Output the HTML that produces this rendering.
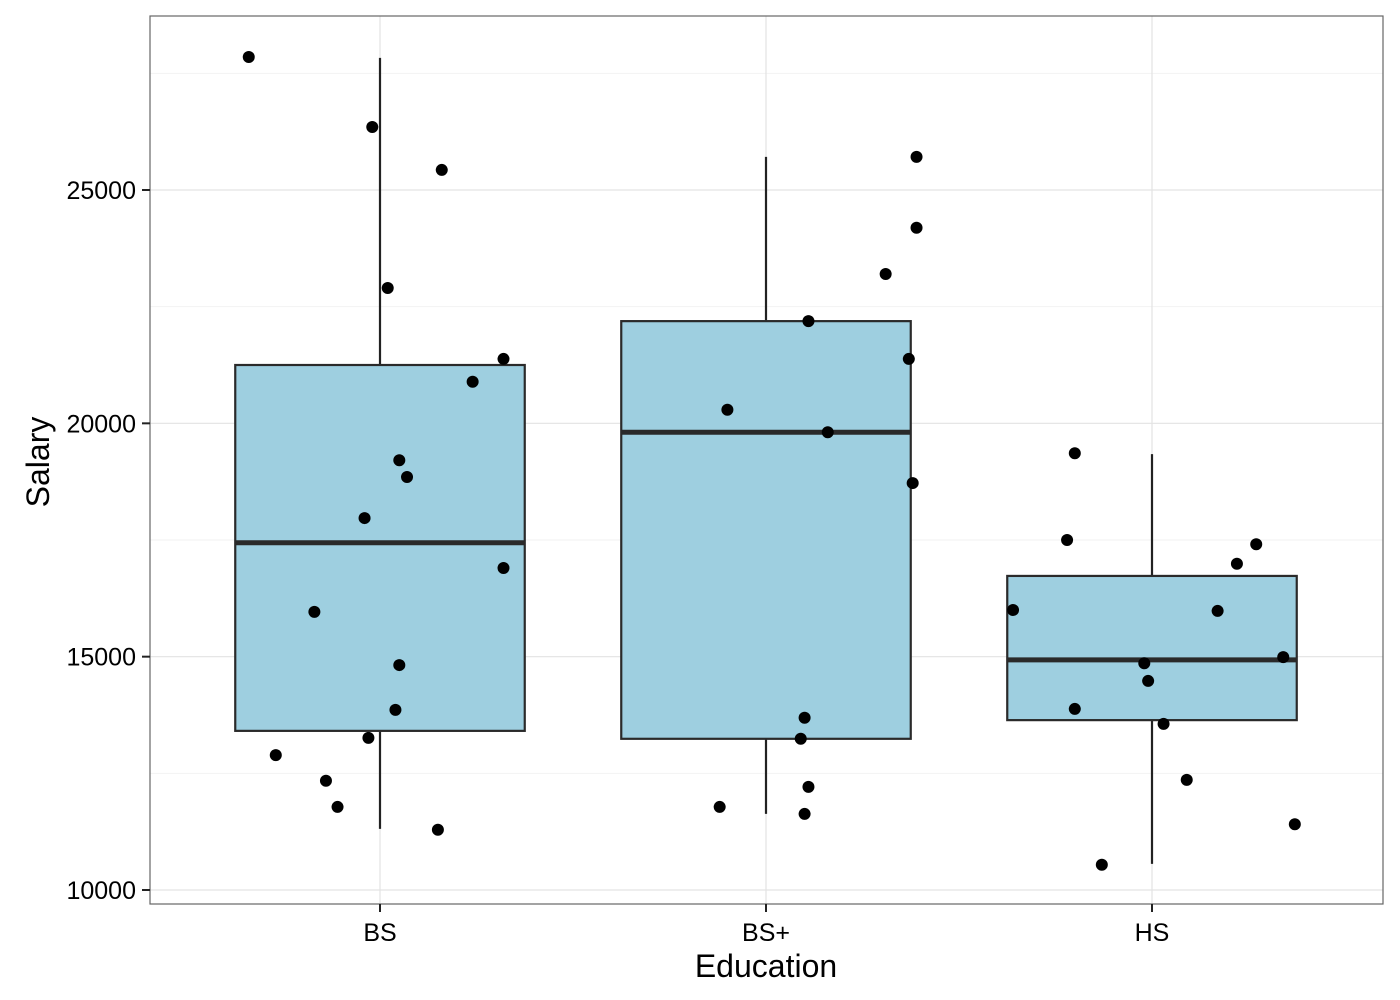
<!DOCTYPE html>
<html><head><meta charset="utf-8"><style>
html,body{margin:0;padding:0;background:#fff}
svg{display:block;font-family:"Liberation Sans",Arial,sans-serif}
</style></head><body>
<svg id="chart" width="1400" height="1000" viewBox="0 0 1400 1000" xmlns="http://www.w3.org/2000/svg"></svg>
<script>
const categories = ["BS", "BS+", "HS"];
const yTicks = [10000, 15000, 20000, 25000];
const yMinorTicks = [12500, 17500, 22500, 27500];
const boxQ1 = [13410, 13240, 13640];
const boxMedian = [17440, 19810, 14930];
const boxQ3 = [21250, 22190, 16730];
const whiskerLow = [11310, 11630, 10560];
const whiskerHigh = [27830, 25710, 19340];
const pointCategory = [0,0,0,0,0,0,0,0,0,0,0,0,0,0,0,0,0,0, 1,1,1,1,1,1,1,1,1,1,1,1,1, 2,2,2,2,2,2,2,2,2,2,2,2,2,2];
const pointJitter = [-0.34,-0.02,0.16,0.02,0.32,0.24,0.05,0.07,-0.04,0.32,-0.17,0.05,0.04,-0.03,-0.27,-0.14,-0.11,0.15,
  0.39,0.39,0.31,0.11,0.37,-0.10,0.16,0.38,0.10,0.09,0.11,-0.12,0.10,
  -0.20,-0.22,0.27,0.22,-0.36,0.17,0.34,-0.02,-0.01,-0.20,0.03,0.09,0.37,-0.13];
const pointSalary = [27850,26350,25430,22900,21380,20890,19210,18850,17970,16900,15960,14820,13860,13260,12890,12340,11780,11290,
  25710,24190,23200,22190,21380,20290,19810,18720,13690,13240,12210,11780,11630,
  19360,17500,17410,16990,16000,15980,14990,14860,14480,13880,13560,12360,11410,10540];

const NS = "http://www.w3.org/2000/svg";
const svg = document.getElementById("chart");
const P = {l:150, r:1383, t:16, b:904};
const y = v => 890 - (v - 10000) * (700 / 15000);
const x = i => 380 + i * 386;
const band = 386;
function mk(tag, attrs, parent) {
  const e = document.createElementNS(NS, tag);
  for (const k in attrs) e.setAttribute(k, attrs[k]);
  (parent || svg).appendChild(e);
  return e;
}
const grid = mk("g", {});


yMinorTicks.forEach(v => mk("line", {x1:P.l, x2:P.r, y1:y(v), y2:y(v), stroke:"#f2f2f2", "stroke-width":1}, grid));
yTicks.forEach(v => mk("line", {x1:P.l, x2:P.r, y1:y(v), y2:y(v), stroke:"#e3e3e3", "stroke-width":1.2}, grid));
categories.forEach((c, i) => mk("line", {x1:x(i), x2:x(i), y1:P.t, y2:P.b, stroke:"#e3e3e3", "stroke-width":1.2}, grid));

categories.forEach((c, i) => {
  const g = mk("g", {});
  
  
  const hw = band * 0.375;
  mk("line", {x1:x(i), x2:x(i), y1:y(whiskerHigh[i]), y2:y(boxQ3[i]), stroke:"#222", "stroke-width":2.2}, g);
  mk("line", {x1:x(i), x2:x(i), y1:y(boxQ1[i]), y2:y(whiskerLow[i]), stroke:"#222", "stroke-width":2.2}, g);
  mk("rect", {x:x(i)-hw, y:y(boxQ3[i]), width:hw*2, height:y(boxQ1[i])-y(boxQ3[i]), fill:"#9ecfe0", stroke:"#2a2a2a", "stroke-width":2.2}, g);
  mk("line", {x1:x(i)-hw, x2:x(i)+hw, y1:y(boxMedian[i]), y2:y(boxMedian[i]), stroke:"#2a2a2a", "stroke-width":5}, g);
});
const pts = mk("g", {});


pointSalary.forEach((v, k) => {
  const c = mk("circle", {cx: x(pointCategory[k]) + pointJitter[k] * band, cy: y(v), r: 6, fill:"#000"}, pts);
  
  
});
const border = mk("rect", {x:P.l, y:P.t, width:P.r-P.l, height:P.b-P.t, fill:"none", stroke:"#666", "stroke-width":1.2});



yTicks.forEach(v => {
  mk("line", {x1:P.l-8, x2:P.l, y1:y(v), y2:y(v), stroke:"#222", "stroke-width":2});
  const t = mk("text", {x:P.l-14, y:y(v)+9, "text-anchor":"end", "font-size":25, fill:"#000"});
  
  
  t.textContent = v;
});
categories.forEach((c, i) => {
  mk("line", {x1:x(i), x2:x(i), y1:P.b, y2:P.b+8, stroke:"#222", "stroke-width":2});
  const t = mk("text", {x:x(i), y:941, "text-anchor":"middle", "font-size":25, fill:"#000"});
  
  
  t.textContent = c;
});
const xt = mk("text", {x:766, y:977, "text-anchor":"middle", "font-size":32, fill:"#000"});


xt.textContent = "Education";
const yt = mk("text", {x:0, y:0, transform:"translate(49,462) rotate(-90)", "text-anchor":"middle", "font-size":32, fill:"#000"});


yt.textContent = "Salary";
</script>
</body></html>
